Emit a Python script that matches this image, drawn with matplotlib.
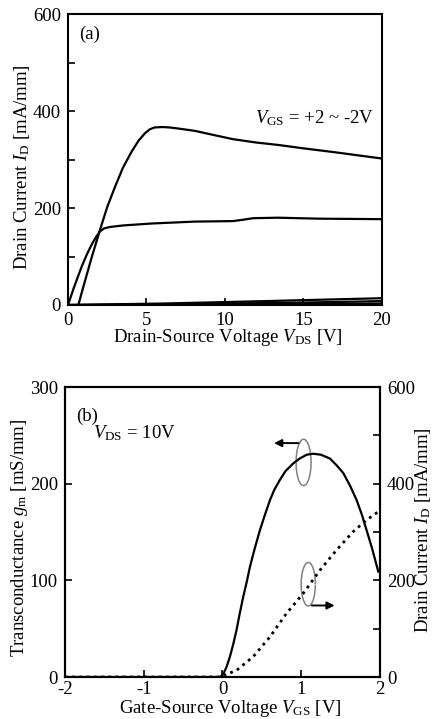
"""
HEMT DC characteristics: (a) ID-VDS family, (b) gm / ID vs VGS at VDS=10V.
"""
import numpy as np
import matplotlib
matplotlib.use('Agg')
import matplotlib.pyplot as plt
from matplotlib.patches import Arc

plt.rcParams['font.family'] = ['Liberation Serif', 'DejaVu Serif']
plt.rcParams['mathtext.fontset'] = 'custom'
plt.rcParams['mathtext.rm'] = 'Liberation Serif'
plt.rcParams['mathtext.it'] = 'Liberation Serif:italic'
plt.rcParams['axes.unicode_minus'] = False

FS = 13.5

# (a) ID-VDS, VGS = +2 ... -2 V
vds_p2 = [0.66, 1.0, 1.5, 2.04, 2.5, 3.0, 3.5, 4.05, 4.5, 4.9, 5.2, 5.5, 6.0, 6.5, 7.0,
          8.1, 9.5, 10.5, 12.0, 13.4, 15.0, 17.0, 20.0]
id_p2 = [0, 40, 97, 155, 202, 244, 283, 316, 339, 354, 362, 366, 367, 366, 364,
         359, 349, 342, 335, 330, 323, 315, 302]
vds_p1 = [0, 0.4, 0.87, 1.2, 1.5, 1.8, 2.05, 2.3, 2.7, 3.5, 5.3, 8.1, 10.5, 11.2, 11.8,
          13.4, 16.0, 20.0]
id_p1 = [0, 38, 79, 104, 124, 141, 152, 158, 161, 164, 168, 172, 173, 176, 179,
         180, 178, 177]
vds_low = [0, 2, 6, 10, 15, 20]
id_0 = [0, 1, 3, 6, 10, 14]
id_m1 = [0, 0.5, 1.5, 3, 5, 8]
id_m2 = [0, 0, 0.5, 1, 2, 3]

# (b) VDS = 10 V
vgs_gm = [-2.0, -1.0, -0.03, 0.01, 0.05, 0.095, 0.14, 0.18, 0.22, 0.264, 0.31, 0.349,
          0.41, 0.476, 0.54, 0.603, 0.66, 0.73, 0.8, 0.899, 0.98, 1.07, 1.153, 1.25,
          1.365, 1.45, 1.534, 1.62, 1.704, 1.77, 1.83, 1.9, 1.979]
gm = [0, 0, 0, 3, 10, 21, 35, 49, 66, 83, 99, 114,
      133, 152, 168, 183, 194, 204, 213, 221, 226, 230, 231, 230,
      226, 219, 211, 198, 183, 168, 152, 133, 109]
vgs_id = [-2.0, -1.0, -0.03, 0.18, 0.39, 0.603, 0.815, 1.026, 1.238, 1.45, 1.661,
          1.83, 1.979]
id_vgs = [0, 0, 0, 14, 42, 83, 132, 173, 221, 263, 301, 325, 342]

fig = plt.figure(figsize=(4.33, 7.19), dpi=100)


def style_ax(ax):
    for s in ax.spines.values():
        s.set_linewidth(1.5)
    ax.tick_params(which='both', direction='in', length=5, width=1.2,
                   labelsize=FS, pad=5)


# ---- (a) ----
ax1 = fig.add_axes([0.157, 0.5758, 0.725, 0.4047])
ax1.plot(vds_p2, id_p2, 'k-', lw=1.6)
ax1.plot(vds_p1, id_p1, 'k-', lw=1.6)
for cur in (id_0, id_m1, id_m2):
    ax1.plot(vds_low, cur, 'k-', lw=1.6)
ax1.set_xlim(0, 20)
ax1.set_ylim(0, 600)
ax1.set_xticks([0, 5, 10, 15, 20])
ax1.set_yticks([0, 200, 400, 600])
ax1.set_yticks([100, 300, 500], minor=True)
style_ax(ax1)
ax1.text(0.035, 0.93, '(a)', transform=ax1.transAxes, fontsize=FS, va='center')
ax1.text(11.9, 385, r'$V_{\mathrm{GS}}$ = +2 ~ -2V', fontsize=FS, va='center')

# ---- (b) ----
ax2 = fig.add_axes([0.150, 0.0584, 0.7275, 0.4033])
ax2.plot(vgs_gm, gm, 'k-', lw=1.6)
ax2.set_xlim(-2, 2)
ax2.set_ylim(0, 300)
ax2.set_xticks([-2, -1, 0, 1, 2])
ax2.set_yticks([0, 100, 200, 300])
style_ax(ax2)
ax2.tick_params(axis='x', pad=3)
ax2.text(0.035, 0.9, '(b)', transform=ax2.transAxes, fontsize=FS, va='center')
ax2.text(-1.64, 252, r'$V_{\mathrm{DS}}$ = 10V', fontsize=FS, va='center')

ax2r = ax2.twinx()
ax2r.plot(vgs_id, id_vgs, 'k', lw=2.0, linestyle=(0, (1, 1.6)))
ax2r.set_ylim(0, 600)
ax2r.set_yticks([0, 200, 400, 600])
ax2r.set_yticks([100, 300, 500], minor=True)
style_ax(ax2r)

# curly arrows (gm -> left axis, ID -> right axis)
ax2.add_patch(Arc((1.03, 222), 0.19, 48, theta1=-150, theta2=112,
                  color='#808080', lw=1.1))
ax2.annotate('', xy=(0.62, 242), xytext=(1.0, 242),
             arrowprops=dict(arrowstyle='-|>', color='k', lw=1.4, mutation_scale=11))
ax2.add_patch(Arc((1.09, 96), 0.18, 45, theta1=55, theta2=285,
                  color='#808080', lw=1.1))
ax2.annotate('', xy=(1.46, 74), xytext=(1.1, 74),
             arrowprops=dict(arrowstyle='-|>', color='k', lw=1.4, mutation_scale=11))

# axis labels
fig.text(0.527, 0.530, r'Drain-Source Voltage $V_{\mathrm{DS}}$ [V]',
         fontsize=FS, ha='center', va='center')
fig.text(0.050, 0.767, r'Drain Current $I_{\mathrm{D}}$ [mA/mm]',
         fontsize=FS, ha='center', va='center', rotation=90)
fig.text(0.531, 0.015, r'Gate-Source Voltage $V_{\mathrm{GS}}$ [V]',
         fontsize=FS, ha='center', va='center')
fig.text(0.046, 0.252, r'Transconductance $g_{\mathrm{m}}$ [mS/mm]',
         fontsize=FS, ha='center', va='center', rotation=90)
fig.text(0.978, 0.263, r'Drain Current $I_{\mathrm{D}}$ [mA/mm]',
         fontsize=FS, ha='center', va='center', rotation=90)

fig.savefig('out.png', dpi=100)
